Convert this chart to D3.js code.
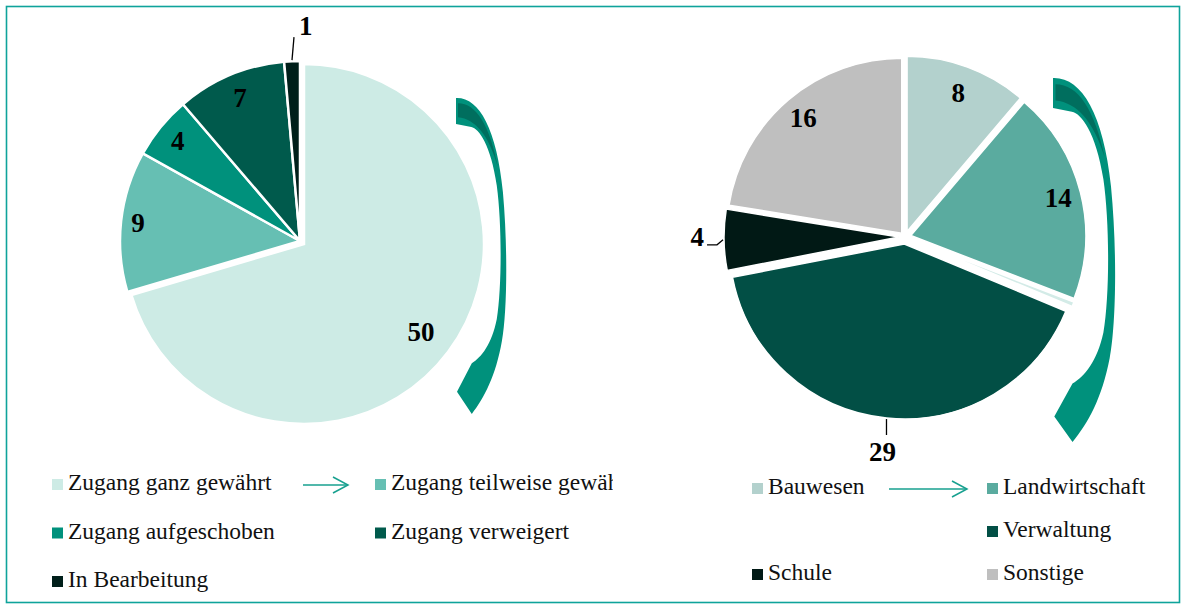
<!DOCTYPE html>
<html>
<head>
<meta charset="utf-8">
<script src="https://cdn.jsdelivr.net/npm/d3@7"></script>
<style>
  html, body { margin: 0; padding: 0; background: #fff; }
  svg { display: block; }
</style>
</head>
<body>
<svg id="chart" width="1186" height="605"></svg>
<script>
// ---------- data ----------
const leftCategories = ["Zugang ganz gewährt", "Zugang teilweise gewährt", "Zugang aufgeschoben", "Zugang verweigert", "In Bearbeitung"];
const leftValues = [50, 9, 4, 7, 1];
const leftColors = ["#cdebe5", "#66bfb3", "#00917c", "#005a4c", "#001f1a"];
const leftLabelMode = ["in", "in", "in", "in", "top"];

const rightCategories = ["Bauwesen", "Landwirtschaft", "", "Verwaltung", "Schule", "Sonstige"];
const rightValues = [8, 14, 0.3, 29, 4, 16];
const rightColors = ["#b3d1cd", "#5aab9f", "#d3ebe7", "#024f45", "#011915", "#bfbfbf"];
const rightLabelMode = ["in", "in", "none", "bottom", "side", "in"];

// ---------- setup ----------
const svg = d3.select("#chart");
const TEAL = "#0fa39b";
const SERIF = "'Liberation Serif', 'Times New Roman', serif";

svg.append("rect")
  .attr("x", 6.5).attr("y", 6.5).attr("width", 1173).attr("height", 596)
  .attr("fill", "none").attr("stroke", TEAL).attr("stroke-width", 1.6);

const pie = d3.pie().sort(null).value(d => d.value).startAngle(0).endAngle(2 * Math.PI);

function polar(angle, r) { return [Math.sin(angle) * r, -Math.cos(angle) * r]; }

function drawPie(cfg) {
  const data = cfg.categories.map((c, i) => ({ name: c, value: cfg.values[i], color: cfg.colors[i], mode: cfg.modes[i], explode: cfg.explode[i], lr: cfg.labelR[i] }));
  const arcs = pie(data);
  const g = svg.append("g").attr("transform", `translate(${cfg.cx},${cfg.cy})`);
  const arc = d3.arc().innerRadius(0).outerRadius(cfg.r);

  const slice = g.selectAll("g.slice").data(arcs).join("g")
    .attr("class", "slice")
    .attr("transform", d => {
      const m = (d.startAngle + d.endAngle) / 2;
      const [ox, oy] = polar(m, d.data.explode);
      return `translate(${ox},${oy})`;
    });

  slice.append("path")
    .attr("d", arc)
    .attr("fill", d => d.data.color)
    .attr("stroke", "#fff")
    .attr("stroke-width", cfg.strokeW)
    .attr("stroke-linejoin", "miter");

  slice.filter(d => d.data.mode === "in").append("text")
    .attr("x", d => d3.arc().innerRadius(d.data.lr).outerRadius(d.data.lr).centroid(d)[0])
    .attr("y", d => d3.arc().innerRadius(d.data.lr).outerRadius(d.data.lr).centroid(d)[1])
    .attr("dy", "0.34em")
    .attr("text-anchor", "middle")
    .attr("font-family", SERIF).attr("font-weight", "bold").attr("font-size", 27)
    .attr("fill", "#000")
    .text(d => d.data.value);

  slice.filter(d => d.data.mode === "top").each(function (d) {
    const m = (d.startAngle + d.endAngle) / 2;
    const p0 = polar(m, cfg.r + 1);
    const x2 = p0[0] + 2, y2 = p0[1] - 23;
    const s = d3.select(this);
    s.append("line").attr("x1", p0[0]).attr("y1", p0[1]).attr("x2", x2).attr("y2", y2)
      .attr("stroke", "#000").attr("stroke-width", 1.3);
    s.append("text").attr("x", x2 + 5).attr("y", y2 - 2)
      .attr("text-anchor", "start")
      .attr("font-family", SERIF).attr("font-weight", "bold").attr("font-size", 27)
      .text(d.data.value);
  });
  slice.filter(d => d.data.mode === "bottom").each(function (d) {
    const m = (d.startAngle + d.endAngle) / 2;
    const p0 = polar(m, cfg.r + 1), p1 = polar(m, cfg.r + 17);
    const s = d3.select(this);
    s.append("line").attr("x1", p0[0]).attr("y1", p0[1]).attr("x2", p0[0]).attr("y2", p1[1])
      .attr("stroke", "#000").attr("stroke-width", 1.3);
    s.append("text").attr("x", p0[0] - 4).attr("y", p1[1] + 26)
      .attr("text-anchor", "middle")
      .attr("font-family", SERIF).attr("font-weight", "bold").attr("font-size", 27)
      .text(d.data.value);
  });
  slice.filter(d => d.data.mode === "side").each(function (d) {
    const m = (d.startAngle + d.endAngle) / 2;
    const p0 = polar(m, cfg.r + 1);
    const s = d3.select(this);
    s.append("path")
      .attr("d", `M${p0[0]},${p0[1]} L${p0[0] - 6},${p0[1] + 5} L${p0[0] - 16},${p0[1] + 5}`)
      .attr("fill", "none").attr("stroke", "#000").attr("stroke-width", 1.3);
    s.append("text").attr("x", p0[0] - 19).attr("y", p0[1] + 6)
      .attr("text-anchor", "end")
      .attr("font-family", SERIF).attr("font-weight", "bold").attr("font-size", 27)
      .text(d.data.value);
  });
}

drawPie({ categories: leftCategories, values: leftValues, colors: leftColors, modes: leftLabelMode,
  explode: [5, 0, 0, 0, 0], labelR: [146, 163, 158, 155, 0], cx: 300, cy: 241, r: 180, strokeW: 2.5 });

drawPie({ categories: rightCategories, values: rightValues, colors: rightColors, modes: rightLabelMode,
  explode: [6, 6, 6, 7, 6, 5], labelR: [148, 152, 0, 0, 0, 152], cx: 905, cy: 237, r: 175, strokeW: 1.5 });

// ---------- curved decorative arrows ----------
const arrowShape = [
  ["M", 0, 0.003],
  ["C", 0.45, 0.0, 0.80, 0.10, 0.92, 0.30],
  ["C", 1.02, 0.48, 1.00, 0.68, 0.90, 0.77],
  ["C", 0.78, 0.88, 0.55, 0.95, 0.31, 1.0],
  ["L", 0.02, 0.93],
  ["L", 0.31, 0.84],
  ["C", 0.50, 0.82, 0.70, 0.78, 0.80, 0.70],
  ["C", 0.90, 0.60, 0.90, 0.40, 0.80, 0.28],
  ["C", 0.68, 0.15, 0.45, 0.10, 0.30, 0.095],
  ["L", 0, 0.085],
  ["Z"]
];
const arrowStripe = [
  ["M", 0.04, 0.02],
  ["C", 0.40, 0.02, 0.66, 0.09, 0.82, 0.22],
  ["C", 0.64, 0.12, 0.38, 0.07, 0.04, 0.064],
  ["Z"]
];
function shapePath(shape, x0, y0, w, h) {
  return shape.map(c => {
    if (c[0] === "Z") return "Z";
    const pts = [];
    for (let i = 1; i < c.length; i += 2) pts.push((x0 + c[i] * w).toFixed(1) + "," + (y0 + c[i + 1] * h).toFixed(1));
    return c[0] + pts.join(" ");
  }).join(" ");
}
function curvedArrow(x0, y0, w, h) {
  const g = svg.append("g");
  g.append("path").attr("d", shapePath(arrowShape, x0, y0, w, h)).attr("fill", "#00917c");
  g.append("path").attr("d", shapePath(arrowStripe, x0, y0, w, h)).attr("fill", "#006e5e");
}
curvedArrow(456, 97, 51, 317);
curvedArrow(1053, 77, 63, 365);

// ---------- legends ----------
function legend(cfg) {
  const g = svg.append("g");
  if (cfg.clip) {
    const id = "clip" + Math.round(cfg.clip);
    svg.append("clipPath").attr("id", id).append("rect").attr("x", 0).attr("y", 0).attr("width", cfg.clip).attr("height", 605);
    g.attr("clip-path", `url(#${id})`);
  }
  cfg.categories.forEach((c, i) => {
    if (!c) return;
    const col = i % 2, row = Math.floor(i / 2);
    const x = cfg.colX[col], y = cfg.row0 + row * cfg.rowH;
    g.append("rect").attr("x", x).attr("y", y - 11).attr("width", 11).attr("height", 11).attr("fill", cfg.colors[i]);
    g.append("text").attr("x", x + 16).attr("y", y)
      .attr("font-family", SERIF).attr("font-size", 23.5).attr("fill", "#111")
      .text(c);
  });
  const ay = cfg.row0 - 5;
  const a = svg.append("g").attr("stroke", "#17a08f").attr("stroke-width", 1.5).attr("fill", "none");
  a.append("line").attr("x1", cfg.arrow[0]).attr("y1", ay).attr("x2", cfg.arrow[1]).attr("y2", ay);
  a.append("path").attr("d", `M${cfg.arrow[1] - 15},${ay - 8} L${cfg.arrow[1]},${ay} L${cfg.arrow[1] - 15},${ay + 8}`);
}
legend({ categories: leftCategories, colors: leftColors, colX: [52, 375], row0: 490, rowH: 48.5, arrow: [303, 348], clip: 613 });
legend({ categories: rightCategories, colors: rightColors, colX: [752, 987], row0: 494, rowH: 43, arrow: [889, 967] });
</script>
</body>
</html>
